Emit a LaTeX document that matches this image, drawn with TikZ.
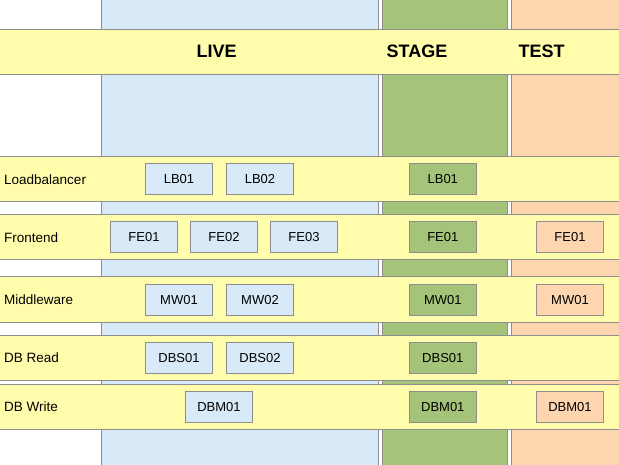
\documentclass[tikz,border=0pt]{standalone}
\usepackage{fontspec}
\setmainfont{Liberation Sans}
\definecolor{bandY}{HTML}{FFFCAB}
\definecolor{liveB}{HTML}{D8EAF7}
\definecolor{stageG}{HTML}{A6C479}
\definecolor{testO}{HTML}{FDD5AF}
\definecolor{lineG}{HTML}{8E8E8E}
\tikzset{
  col/.style={draw=lineG, line width=1pt},
  band/.style={draw=lineG, line width=1pt, fill=bandY},
  srv/.style={draw=lineG, line width=1pt, minimum width=67.4pt, minimum height=31pt, inner sep=0pt, font=\fontsize{13}{15}\selectfont},
  livebox/.style={srv, fill=liveB},
  stagebox/.style={srv, fill=stageG},
  testbox/.style={srv, fill=testO},
  rowlabel/.style={anchor=west, inner sep=0pt, font=\fontsize{13.5}{16}\selectfont},
  headlabel/.style={inner sep=0pt, font=\fontsize{18}{20}\selectfont\bfseries},
}
\begin{document}
\begin{tikzpicture}[x=1pt, y=-1pt]
\useasboundingbox (0,0) rectangle (619,464);
\clip (0,0) rectangle (619,464);
\fill[white] (0,0) rectangle (619,464);
% columns
\draw[col, fill=liveB] (101,-5) rectangle (378,470);
\draw[col, fill=stageG] (382,-5) rectangle (507.3,470);
\draw[col, fill=testO] (511.3,-5) rectangle (625,470);
% bands
\draw[band] (-5,29.3) rectangle (625,74);
\draw[band] (-5,156) rectangle (625,201.7);
\draw[band] (-5,214.3) rectangle (625,259);
\draw[band] (-5,276.7) rectangle (625,322.3);
\draw[band] (-5,335) rectangle (625,380);
\draw[band] (-5,384.3) rectangle (625,429);
% headers
\node[headlabel] (hlive) at (216.7,51.5) {LIVE};
\node[headlabel] (hstage) at (417,51.5) {STAGE};
\node[headlabel] (htest) at (541.7,51.5) {TEST};
% row labels
\node[rowlabel] (rlb) at (4,179.3) {Loadbalancer};
\node[rowlabel] (rfe) at (4,237.2) {Frontend};
\node[rowlabel] (rmw) at (4,299.8) {Middleware};
\node[rowlabel] (rdbr) at (4,357.8) {DB Read};
\node[rowlabel] (rdbw) at (4,406.8) {DB Write};
% loadbalancer
\node[livebox] (lb01) at (179,178.8) {LB01};
\node[livebox] (lb02) at (260,178.8) {LB02};
\node[stagebox] (slb01) at (442.8,178.8) {LB01};
% frontend
\node[livebox] (fe01) at (144,236.7) {FE01};
\node[livebox] (fe02) at (224,236.7) {FE02};
\node[livebox] (fe03) at (304,236.7) {FE03};
\node[stagebox] (sfe01) at (442.8,236.7) {FE01};
\node[testbox] (tfe01) at (570,236.7) {FE01};
% middleware
\node[livebox] (mw01) at (179,299.8) {MW01};
\node[livebox] (mw02) at (260,299.8) {MW02};
\node[stagebox] (smw01) at (442.8,299.8) {MW01};
\node[testbox] (tmw01) at (570,299.8) {MW01};
% db read
\node[livebox] (dbs01) at (179,357.8) {DBS01};
\node[livebox] (dbs02) at (260,357.8) {DBS02};
\node[stagebox] (sdbs01) at (442.8,357.8) {DBS01};
% db write
\node[livebox] (dbm01) at (219,406.8) {DBM01};
\node[stagebox] (sdbm01) at (442.8,406.8) {DBM01};
\node[testbox] (tdbm01) at (570,406.8) {DBM01};
\end{tikzpicture}
\end{document}
